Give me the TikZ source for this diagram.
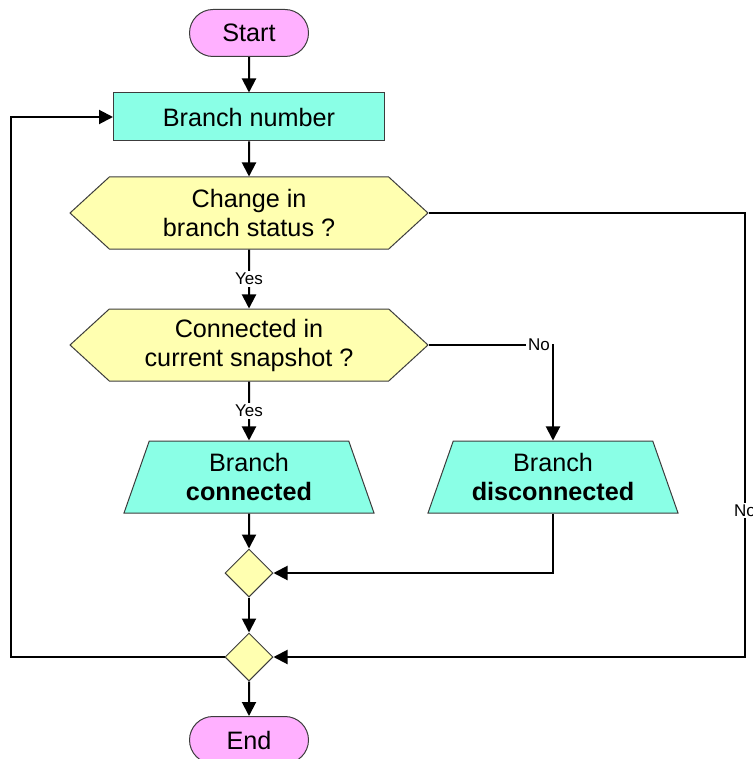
\documentclass[tikz,border=0pt]{standalone}
\usepackage{fontspec}
\setmainfont{Liberation Sans}
\usepackage{tikz}
\usetikzlibrary{positioning, arrows.meta, shapes.geometric, shapes.symbols, shapes.misc}
\definecolor{terminalColor}{RGB}{255, 176, 255}
\definecolor{processColor}{RGB}{138, 255, 230}
\definecolor{decisionColor}{RGB}{255, 255, 176}
\definecolor{borderColor}{RGB}{60, 60, 60}

\begin{document}
\begin{tikzpicture}[
  x=0.5pt, y=-0.5pt,
  every node/.style={font=\fontsize{12.6}{14.5}\selectfont, align=center},
  terminal/.style={draw=borderColor, line width=0.5pt, fill=terminalColor,
    rounded rectangle, minimum width=59.5pt, minimum height=23.5pt, inner sep=0pt},
  process/.style={draw=borderColor, line width=0.5pt, fill=processColor,
    rectangle, minimum width=135.5pt, minimum height=24pt, inner sep=0pt},
  decision/.style={draw=borderColor, line width=0.5pt, fill=decisionColor,
    signal, signal to=west and east, signal pointer angle=85,
    minimum width=179pt, minimum height=36pt, inner sep=0pt},
  output/.style={draw=borderColor, line width=0.5pt, fill=processColor,
    trapezium, trapezium left angle=62, trapezium right angle=62,
    trapezium stretches body, minimum width=125pt, minimum height=36pt, inner sep=0pt},
  merge/.style={draw=borderColor, line width=0.5pt, fill=decisionColor,
    diamond, minimum width=24pt, minimum height=24pt, inner sep=0pt},
  flow/.style={line width=1pt, -{Triangle[length=7pt, width=7pt]}},
  answer/.style={font=\fontsize{8.5}{10}\selectfont, fill=white, inner sep=1pt}
]
\useasboundingbox (0,0) rectangle (752,759);

% main column
\node[terminal] (start) at (249,33) {Start};
\node[process] (number) at (249,117) {Branch number};
\node[decision] (change) at (249,213) {Change in\\branch status ?};
\node[decision] (snapshot) at (249,345) {Connected in\\current snapshot ?};
\node[output] (conn) at (249,477) {Branch\\\textbf{connected}};
\node[output] (disc) at (553,477) {Branch\\\textbf{disconnected}};
\node[merge] (mergeA) at (249,573) {};
\node[merge] (mergeB) at (249,657) {};
\node[terminal] (finish) at (249,740) {End};

% turning points of the outer loops
\coordinate (rightTurn) at (745,657);
\coordinate (leftTurn) at (11,657);

\draw[flow] (start) -- (number);
\draw[flow] (number) -- (change);
\draw[flow] (change) -- node[answer] {Yes} (snapshot);
\draw[flow] (snapshot) -- node[answer] {Yes} (conn);
\draw[flow] (snapshot.east) -| node[answer, pos=0.5, xshift=-7pt] {No} (disc);
\draw[flow] (conn) -- (mergeA);
\draw[flow] (disc) |- (mergeA);
\draw[flow] (mergeA) -- (mergeB);
\draw[flow] (change.east) -- (change.east -| rightTurn)
  -- node[answer, pos=0.67] {No} (rightTurn) -- (mergeB);
\draw[flow] (mergeB) -- (leftTurn) |- (number);
\draw[flow] (mergeB) -- (finish);
\end{tikzpicture}
\end{document}
